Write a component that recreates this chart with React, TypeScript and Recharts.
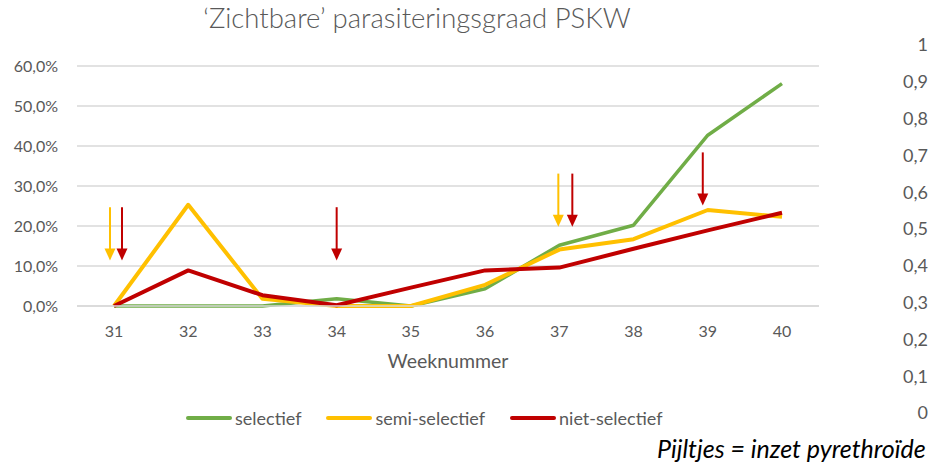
import React from "react";
import {
  ComposedChart,
  Line,
  XAxis,
  YAxis,
  CartesianGrid,
  Legend,
  ReferenceLine,
} from "recharts";

const weeks = ["31", "32", "33", "34", "35", "36", "37", "38", "39", "40"];
const selectief = [0, 0, 0, 1.8, 0, 4.3, 15.2, 20.2, 42.7, 55.6];
const semiSelectief = [0, 25.3, 1.8, 0, 0, 5.3, 14.1, 16.7, 24.0, 22.3];
const nietSelectief = [0, 8.9, 2.7, 0.2, 4.6, 8.9, 9.6, 14.3, 18.9, 23.3];
const seriesNames = ["selectief", "semi-selectief", "niet-selectief"];
const leftTicks = [0, 10, 20, 30, 40, 50, 60];
const rightTicks = [0, 0.1, 0.2, 0.3, 0.4, 0.5, 0.6, 0.7, 0.8, 0.9, 1];

// pyrethroid arrows: week, treatment, start and tip of the arrow (in %)
const arrowWeeks = ["31", "31", "34", "37", "37", "39"];
const arrowSeries = ["semi", "niet", "niet", "semi", "niet", "niet"];
const arrowTops = [24.7, 24.7, 24.7, 33.1, 33.1, 38.4];
const arrowTips = [11.4, 11.4, 11.4, 19.8, 19.8, 25.1];

const data = weeks.map((w, i) => ({
  week: w,
  selectief: selectief[i],
  semi: semiSelectief[i],
  niet: nietSelectief[i],
}));

const GREEN = "#70AD47";
const YELLOW = "#FFC000";
const RED = "#C00000";
const TEXT = "#595959";
const GRID = "#D9D9D9";
const FONT = "Lato";

// hand placed offsets of the arrows next to each other
const arrowNudge = [-4, 8, 0, -1, 13, -5];

const pct = (v: number) => `${v.toFixed(1).replace(".", ",")}%`;
const dec = (v: number) => String(Math.round(v * 10) / 10).replace(".", ",");

const Arrow = (props: any) => {
  const { x1, y1, x2, y2, dx, color } = props;
  const x = (x1 + x2) / 2 + dx;
  const head = 12;
  return (
    <g>
      <line x1={x} y1={y1} x2={x} y2={y2 - head + 1} stroke={color} strokeWidth={2} />
      <path d={`M${x - 5.5},${y2 - head}L${x + 5.5},${y2 - head}L${x},${y2}Z`} fill={color} />
    </g>
  );
};

const LegendContent = (props: any) => {
  const items = [...(props.payload || [])].sort(
    (a: any, b: any) => seriesNames.indexOf(a.value) - seriesNames.indexOf(b.value)
  );
  return (
    <div style={{ display: "flex", alignItems: "center", fontFamily: FONT, fontSize: 18, color: TEXT }}>
      {items.map((p: any) => (
        <div key={p.value} style={{ display: "flex", alignItems: "center", marginRight: 25 }}>
          <svg width={46} height={6} style={{ marginRight: 3 }}>
            <line x1={2} y1={3} x2={44} y2={3} stroke={p.color} strokeWidth={4} strokeLinecap="round" />
          </svg>
          <span>{p.value}</span>
        </div>
      ))}
    </div>
  );
};

const App = () => {
  return (
    <div
      style={{
        position: "absolute",
        left: 0,
        top: 0,
        width: 928,
        height: 462,
        overflow: "hidden",
        background: "#fff",
        fontFamily: FONT,
      }}
    >
      <div
        style={{
          position: "absolute",
          left: 0,
          top: 1,
          width: 834,
          textAlign: "center",
          fontSize: 27.5,
          fontWeight: 300,
          color: TEXT,
          whiteSpace: "nowrap",
        }}
      >
        ‘Zichtbare’ parasiteringsgraad PSKW
      </div>

      <div style={{ position: "absolute", left: 0, top: 0 }}>
        <ComposedChart
          width={830}
          height={462}
          data={data}
          margin={{ top: 66, right: 11, bottom: 106, left: 0 }}
        >
          <CartesianGrid vertical={false} stroke={GRID} strokeWidth={1.3} />
          <XAxis
            dataKey="week"
            scale="point"
            padding={{ left: 37, right: 37 }}
            height={50}
            tickSize={0}
            tickMargin={20}
            axisLine={{ stroke: GRID, strokeWidth: 1.3 }}
            tick={{ fill: TEXT, fontSize: 16, fontFamily: FONT }}
            label={{
              value: "Weeknummer",
              position: "bottom",
              offset: -2,
              fill: TEXT,
              fontSize: 19.5,
              fontFamily: FONT,
            }}
          />
          <YAxis
            width={77}
            domain={[0, 60]}
            ticks={leftTicks}
            tickFormatter={pct}
            axisLine={false}
            tickSize={0}
            tickMargin={19}
            tick={{ fill: TEXT, fontSize: 16, fontFamily: FONT }}
          />
          <Line
            dataKey="selectief"
            name="selectief"
            stroke={GREEN}
            strokeWidth={3.5}
            dot={false}
            strokeLinejoin="round"
            isAnimationActive={false}
          />
          <Line
            dataKey="semi"
            name="semi-selectief"
            stroke={YELLOW}
            strokeWidth={4}
            dot={false}
            strokeLinejoin="round"
            isAnimationActive={false}
          />
          <Line
            dataKey="niet"
            name="niet-selectief"
            stroke={RED}
            strokeWidth={4}
            dot={false}
            strokeLinejoin="round"
            isAnimationActive={false}
          />
          {arrowWeeks.map((w, i) => (
            <ReferenceLine
              key={`arrow-${i}`}
              segment={[
                { x: w, y: arrowTops[i] },
                { x: w, y: arrowTips[i] },
              ]}
              shape={(p: any) => (
                <Arrow {...p} dx={arrowNudge[i]} color={arrowSeries[i] === "semi" ? YELLOW : RED} />
              )}
            />
          ))}
          <Legend
            layout="horizontal"
            verticalAlign="middle"
            align="center"
            content={<LegendContent />}
            wrapperStyle={{ left: 186, top: 407, width: "auto" }}
          />
        </ComposedChart>
      </div>

      {/* neighbouring chart, only its value axis is visible at the right edge */}
      <div style={{ position: "absolute", left: 850, top: 0 }}>
        <ComposedChart width={90} height={462} data={data} margin={{ top: 45, right: 0, bottom: 49, left: 0 }}>
          <XAxis dataKey="week" hide />
          <YAxis
            width={78}
            domain={[0, 1]}
            ticks={rightTicks}
            allowDataOverflow
            tickFormatter={dec}
            axisLine={false}
            tickSize={0}
            tickMargin={0}
            tick={{ fill: TEXT, fontSize: 18, fontFamily: FONT }}
          />
          <Line
            dataKey="selectief"
            stroke="transparent"
            dot={false}
            legendType="none"
            isAnimationActive={false}
          />
        </ComposedChart>
      </div>

      <div
        style={{
          position: "absolute",
          left: 657,
          top: 433,
          fontSize: 25,
          fontStyle: "italic",
          color: "#000",
          whiteSpace: "nowrap",
        }}
      >
        Pijltjes = inzet pyrethroïde
      </div>
    </div>
  );
};

export default App;
